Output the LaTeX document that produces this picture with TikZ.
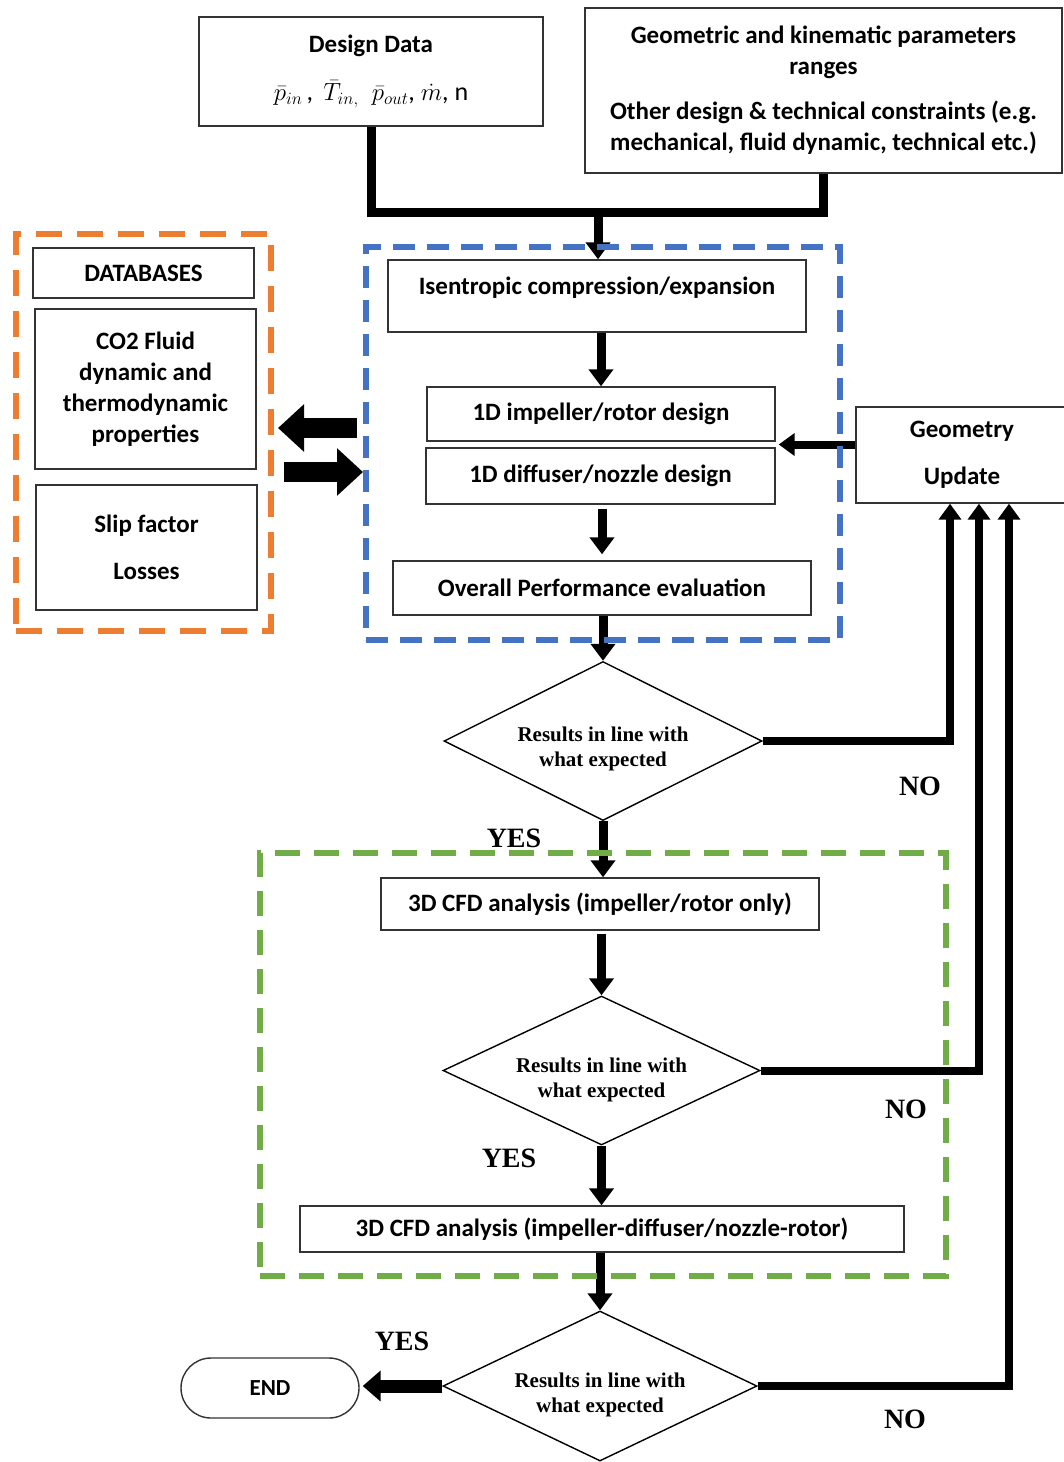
\documentclass[tikz,border=0pt]{standalone}
\usepackage{fontspec}
\setmainfont{Carlito}
\newfontfamily\tnr{Liberation Serif}
\usetikzlibrary{arrows.meta,shapes.geometric,calc}
\begin{document}
\begin{tikzpicture}[x=1pt,y=-1pt,
  box/.style={draw=black!80, line width=1.4pt, fill=white, align=center, inner sep=0pt,
    font=\fontsize{25}{31}\selectfont\bfseries},
  dia/.style={diamond, aspect=2, draw=black, line width=1.4pt, fill=white, align=center, inner sep=0pt,
    font=\tnr\fontsize{21}{25}\selectfont\bfseries},
  yn/.style={font=\tnr\fontsize{28}{30}\selectfont\bfseries, inner sep=0pt},
  conn/.style={line width=9pt, -{Triangle[width=24pt,length=17pt]}},
  fb/.style={line width=8pt, -{Triangle[width=22pt,length=16pt]}},
  plain/.style={line width=9pt},
  big/.style={line width=20pt, -{Triangle[width=46pt,length=26pt]}},
  frame/.style={line width=6pt, dash pattern=on 22pt off 12pt, inner sep=0pt}
]
\useasboundingbox (0,0) rectangle (1064,1462);
\fill[white] (0,0) rectangle (1064,1462);

% top boxes
\node[box, minimum width=344, minimum height=109] (dd) at (371,71.5)
  {Design Data\\[17pt]\fontseries{m}\fontsize{26}{31}\selectfont$\bar{p}_{in}$\,,\, $\bar{T}_{in,}$\; $\bar{p}_{out}$, $\dot{m}$, n};
\node[box, minimum width=477, minimum height=165] (gk) at (823.5,90.5)
  {Geometric and kinematic parameters\\ranges\\[14pt]Other design \& technical constraints (e.g.\\mechanical, fluid dynamic, technical etc.)};

% blue group
\node[box, minimum width=418, minimum height=72, text height=17pt, text depth=21pt] (iso) at (597,296) {Isentropic compression/expansion};
\node[box, minimum width=348, minimum height=54] (imp) at (601,414) {1D impeller/rotor design};
\node[box, minimum width=349, minimum height=56] (dif) at (600.5,476) {1D diffuser/nozzle design};
\node[box, minimum width=418, minimum height=54] (perf) at (602,588) {Overall Performance evaluation};

% geometry update
\node[box, minimum width=212, minimum height=96] (geo) at (962,455) {Geometry\\[16pt]Update};

% databases
\node[box, minimum width=221, minimum height=50] (db) at (143.5,273) {DATABASES};
\node[box, minimum width=221, minimum height=160] (co2) at (145.5,389) {CO2 Fluid\\dynamic and\\thermodynamic\\properties};
\node[box, minimum width=221, minimum height=125] (slip) at (146.5,547.5) {Slip factor\\[16pt]Losses};

% decisions
\node[dia, minimum width=318, minimum height=159] (d1) at (603,741) {\rule{0pt}{30pt}Results in line with\\what expected};
\node[box, minimum width=438, minimum height=52] (cfd1) at (600,904) {3D CFD analysis (impeller/rotor only)};
\node[dia, minimum width=317, minimum height=149] (d2) at (601.5,1070.5) {\rule{0pt}{34pt}Results in line with\\what expected};
\node[box, minimum width=604, minimum height=46] (cfd2) at (602,1229) {3D CFD analysis (impeller-diffuser/nozzle-rotor)};
\node[dia, minimum width=314, minimum height=150] (d3) at (600,1386) {\rule{0pt}{32pt}Results in line with\\what expected};
\node[box, rounded corners=30pt, minimum width=178, minimum height=60, font=\fontsize{23}{28}\selectfont\bfseries] (end) at (270,1388) {END};

% labels
\node[yn] (no1) at (920,786) {NO};
\node[yn] (yes1) at (514,838) {YES};
\node[yn] (no2) at (906,1109) {NO};
\node[yn] (yes2) at (509,1158) {YES};
\node[yn] (yes3) at (402,1341) {YES};
\node[yn] (no3) at (905,1419) {NO};

% connectors
\coordinate (j) at (598,212);
\draw[plain] (dd.south) |- (j) -| (gk.south);
\draw[conn] (j) -- (iso.north -| j);
\draw[conn] (iso.south -| imp.north) -- (imp.north);
\draw[conn] ([yshift=-4pt]dif.south -| perf.north) -- ([yshift=6pt]perf.north);
\draw[conn] (perf.south -| d1.north) -- (d1.north);
\draw[conn] (d1.south) -- (cfd1.north -| d1.south);
\draw[conn] ([yshift=-3pt]cfd1.south -| d2.north) -- (d2.north);
\draw[conn] (d2.south) -- (cfd2.north -| d2.south);
\draw[conn] (cfd2.south -| d3.north) -- (d3.north);
\draw[line width=13pt, -{Triangle[width=30pt,length=18pt]}] (d3.west) -- ([xshift=3pt]end.east |- d3.west);
\coordinate (gi) at ($(imp.south east)!0.5!(dif.north east)$);
\draw[fb] (gi -| geo.west) -- ([xshift=3pt]gi);
\draw[fb] (d1.east) -| ([xshift=-12pt]geo.south);
\draw[fb] (d2.east) -| ([xshift=17pt]geo.south);
\draw[fb] (d3.east) -| ([xshift=47pt]geo.south);

% dashed frames
\node[frame, draw={rgb,255:red,68;green,114;blue,196}, minimum width=474, minimum height=393] (blue) at (603,443.5) {};
\node[frame, draw={rgb,255:red,237;green,125;blue,49}, dash pattern=on 26pt off 15pt, minimum width=255, minimum height=397] (orange) at (143.5,432.5) {};
\node[frame, draw={rgb,255:red,112;green,173;blue,71}, dash pattern=on 25pt off 14pt, minimum width=686, minimum height=423] (green) at (603,1064.5) {};

% database exchange arrows
\draw[big] ([xshift=-6pt,yshift=15.5pt]blue.west) -- ([xshift=4pt,yshift=4.5pt]orange.east);
\draw[big] ([xshift=10pt,yshift=-39.5pt]orange.east) -- ([yshift=-28.5pt]blue.west);
\end{tikzpicture}
\end{document}
